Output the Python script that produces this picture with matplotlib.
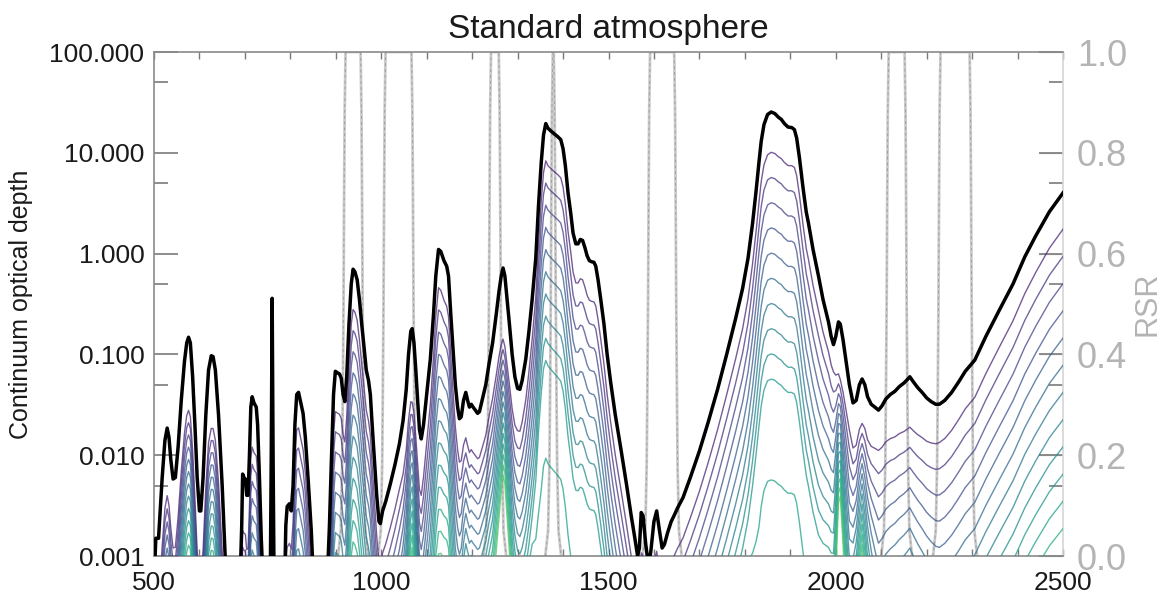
import numpy as np
import matplotlib
matplotlib.use('Agg')
import matplotlib.pyplot as plt
from matplotlib.ticker import FixedLocator, FuncFormatter, MultipleLocator

plt.rcParams['font.family'] = ['Liberation Sans', 'DejaVu Sans']

# ---------------- data ----------------
# total (black) continuum optical depth
black_wl = [500, 502, 504, 510, 513, 518, 524, 529, 533, 537, 542, 547, 553, 560, 567, 572, 576, 580,
            585, 590, 595, 600, 603, 608, 614, 620, 626, 630, 635, 642, 650, 655, 658,
            690, 693, 695, 698, 701, 704, 707, 710, 713, 716, 720, 725, 728, 732, 736, 739,
            756, 758, 760, 762, 764,
            788, 790, 793, 798, 802, 806, 810, 814, 818, 823, 828, 833, 840, 846, 850,
            882, 886, 890, 895, 899, 903, 908, 912, 916, 920, 924, 929, 934, 938, 942, 947, 952,
            957, 962, 967, 972, 976, 980, 985, 990, 995, 998, 1003, 1010, 1020, 1030, 1040, 1048,
            1055, 1060, 1065, 1068, 1072, 1076, 1080, 1084, 1088, 1093, 1100, 1108, 1115, 1120,
            1126, 1131, 1138, 1144, 1148, 1153, 1158, 1163, 1168, 1172, 1176, 1181, 1186, 1190,
            1194, 1198, 1202, 1207, 1212, 1216, 1222, 1230, 1237, 1245, 1253, 1259, 1264, 1268,
            1272, 1277, 1282, 1288, 1294, 1300, 1305, 1310, 1318, 1325, 1332, 1340, 1346, 1352,
            1357, 1362, 1367, 1373, 1380, 1388, 1395, 1400, 1405, 1411, 1417, 1422, 1428, 1433,
            1438, 1443, 1448, 1453, 1458, 1463, 1468, 1472, 1477, 1483, 1490, 1497, 1505, 1515,
            1528, 1540, 1550, 1558, 1564, 1568, 1572, 1576, 1582, 1588, 1593, 1600, 1606, 1612,
            1618, 1623, 1630, 1638, 1644, 1652, 1664, 1680, 1700, 1719, 1740, 1760, 1780, 1795,
            1807, 1817, 1825, 1831, 1836, 1842, 1850, 1858, 1866, 1874, 1880, 1887, 1895, 1903,
            1909, 1914, 1920, 1928, 1935, 1940, 1950, 1962, 1972, 1984, 1990, 1995, 2000, 2006,
            2010, 2016, 2022, 2030, 2038, 2045, 2052, 2058, 2064, 2070, 2078, 2086, 2094, 2102,
            2110, 2120, 2130, 2140, 2150, 2157, 2163, 2170, 2180, 2190, 2200, 2210, 2220, 2228,
            2240, 2255, 2270, 2285, 2306, 2330, 2359, 2390, 2416, 2440, 2470, 2500]
black_tau = [0.0009, 0.0009, 0.0015, 0.0015, 0.0025, 0.006, 0.014, 0.0186, 0.015, 0.009, 0.0058, 0.006,
             0.012, 0.035, 0.085, 0.13, 0.148, 0.13,
             0.06, 0.02, 0.006, 0.0028, 0.0028, 0.006, 0.025, 0.07, 0.097, 0.095, 0.07, 0.025,
             0.005, 0.0015, 0.0007,
             0.0007, 0.002, 0.0065, 0.006, 0.0058, 0.004, 0.004, 0.01, 0.03, 0.038, 0.033, 0.03,
             0.02, 0.006, 0.0015, 0.0007,
             0.0007, 0.01, 0.36, 0.01, 0.0007,
             0.0007, 0.002, 0.0031, 0.0033, 0.0028, 0.005, 0.02, 0.04, 0.042, 0.033, 0.026,
             0.015, 0.005, 0.0018, 0.0007,
             0.0007, 0.002, 0.008, 0.04, 0.068, 0.066, 0.064, 0.058, 0.04, 0.034, 0.06, 0.2,
             0.5, 0.7, 0.66, 0.55, 0.35,
             0.2, 0.12, 0.07, 0.055, 0.04, 0.02, 0.009, 0.004, 0.0022, 0.0021, 0.0028, 0.0035,
             0.0052, 0.008, 0.013, 0.022,
             0.045, 0.1, 0.17, 0.18, 0.13, 0.07, 0.035, 0.018, 0.0145, 0.02, 0.04, 0.09, 0.25, 0.6,
             1.1, 1.05, 0.85, 0.75, 0.6, 0.25, 0.11, 0.05, 0.03, 0.023, 0.024, 0.035, 0.042, 0.035,
             0.03, 0.032, 0.03, 0.028, 0.026, 0.027, 0.035, 0.05, 0.08, 0.13, 0.25, 0.42, 0.6, 0.72,
             0.6, 0.35, 0.2, 0.1, 0.06, 0.046, 0.045, 0.055, 0.09, 0.17, 0.35, 0.9, 3.0, 8.0,
             15.0, 19.5, 17.5, 16.5, 15.5, 14.5, 13.5, 11.0, 7.5, 4.0, 2.5, 1.6, 1.25, 1.25,
             1.38, 1.35, 1.15, 0.95, 0.85, 0.83, 0.82, 0.75, 0.55, 0.35, 0.2, 0.1, 0.052, 0.025,
             0.011, 0.005, 0.0025, 0.0015, 0.001, 0.0012, 0.0027, 0.0025, 0.0013, 0.0008, 0.0011,
             0.0022, 0.0028, 0.0018,
             0.0012, 0.0013, 0.0017, 0.0022, 0.0025, 0.003, 0.0038, 0.006, 0.011, 0.021, 0.045,
             0.1, 0.23, 0.45,
             0.9, 2.0, 4.3, 8.0, 13.0, 19.0, 24.0, 25.4, 24.5, 22.5, 21.5, 19.5, 18.0, 17.8,
             17.0, 14.0, 9.0, 4.5, 2.6, 2.0, 1.1, 0.6, 0.35, 0.21, 0.15, 0.125, 0.15, 0.21,
             0.2, 0.14, 0.09, 0.05, 0.033, 0.035, 0.05, 0.057, 0.05, 0.038, 0.032, 0.03, 0.028,
             0.031,
             0.036, 0.04, 0.043, 0.048, 0.052, 0.056, 0.06, 0.054, 0.047, 0.042, 0.037, 0.034,
             0.032, 0.032,
             0.035, 0.042, 0.053, 0.068, 0.088, 0.15, 0.27, 0.5, 0.93, 1.5, 2.6, 4.0]

# layered (coloured) curves: log10 offset of the top curve below the total,
# log10 step between successive curves, and extra step for the lowest curves
anc_wl = [500, 530, 555, 580, 605, 628, 665, 700, 716, 745, 760, 775, 815, 900, 940, 985,
          1040, 1068, 1095, 1126, 1165, 1186, 1215, 1245, 1270, 1300, 1362, 1440, 1520, 1700,
          1858, 1960, 1995, 2008, 2030, 2058, 2094, 2163, 2226, 2300, 2500]
anc_top = [0.7, 0.67, 0.7, 0.73, 0.72, 0.72, 0.6, 0.55, 0.5, 0.45, 0.3, 0.45, 0.35, 0.4, 0.4,
           0.4, 0.45, 0.73, 0.5, 0.38, 0.42, 0.45, 0.45, 0.55, 0.72, 0.42, 0.37, 0.39, 0.4, 0.4,
           0.4, 0.35, 0.27, 0.56, 0.45, 0.44, 0.4, 0.5, 0.38, 0.37, 0.36]
anc_step = [0.13, 0.13, 0.13, 0.12, 0.13, 0.12, 0.15, 0.17, 0.17, 0.17, 0.1, 0.17, 0.2, 0.2,
            0.21, 0.21, 0.2, 0.12, 0.2, 0.22, 0.2, 0.15, 0.15, 0.15, 0.1, 0.17, 0.22, 0.23,
            0.23, 0.23, 0.25, 0.25, 0.2, 0.08, 0.18, 0.1, 0.23, 0.2, 0.26, 0.26, 0.27]
gap_wl = [500, 1330, 1350, 1480, 1510, 1800, 1830, 1950, 1990, 2500]
gap_extra = [0, 0, 0.75, 0.75, 0, 0, 0.75, 0.75, 0, 0]
n_layers = 14

# instrument relative spectral responses (band 50% edges)
band_lo = [917, 1005, 1237, 1373, 1587, 2112, 2226]
band_hi = [959, 1071, 1263, 1384, 1649, 2156, 2299]
edge_dx = [-12, -6, -3, -1.5, 0, 1.2, 2.5, 4.5]
edge_rsr = [0.0, 0.05, 0.18, 0.33, 0.5, 0.7, 0.88, 1.0]

# ---------------- figure ----------------
W, H = 1167, 593
fig = plt.figure(figsize=(W / 100, H / 100), dpi=100)
L, R, T, B = 154, 1063, 52, 556
ax = fig.add_axes([L / W, 1 - B / H, (R - L) / W, (B - T) / H])
ax2 = ax.twinx()
ax.set_zorder(ax2.get_zorder() + 1)
ax.patch.set_visible(False)

# RSR curves
for lo, hi in zip(band_lo, band_hi):
    ex = np.asarray(edge_dx, float)
    er = np.asarray(edge_rsr, float)
    x = np.concatenate([lo + ex, hi - ex[::-1]])
    y = np.concatenate([er, er[::-1]])
    ax2.plot(x, y, color='#cacaca', lw=2.0, zorder=2)
    ax2.plot(x, y, color='#a0a0a0', lw=0.7, dashes=(3, 3), zorder=3)
ax2.set_ylim(0, 1)
ax2.set_yticks([0, 0.2, 0.4, 0.6, 0.8, 1.0])
ax2.yaxis.set_major_formatter(FuncFormatter(lambda v, p: f'{v:.1f}'))
ax2.tick_params(axis='y', direction='in', length=17, width=1.0, color='#d6d6d6',
                labelcolor='#b4b4b4', labelsize=26, pad=10)
ax2.set_ylabel('RSR', color='#b4b4b4', fontsize=22, labelpad=4)
for s in ax2.spines.values():
    s.set_visible(False)

# layered curves
bw = np.asarray(black_wl, float)
bt = np.asarray(black_tau, float)
top = np.interp(bw, anc_wl, anc_top)
step = np.interp(bw, anc_wl, anc_step)
gap = np.interp(bw, gap_wl, gap_extra)
cols = plt.cm.viridis(np.linspace(0.1, 0.72, n_layers))
for i in range(n_layers):
    off = top + step * i + gap * max(0, i - 9)
    ax.plot(bw, bt * 10 ** (-off), color=cols[i], lw=1.0, alpha=0.75, zorder=3)

ax.plot(bw, bt, color='black', lw=2.5, zorder=5)

ax.set_yscale('log')
ax.set_xlim(500, 2500)
ax.set_ylim(1e-3, 100)
ax.yaxis.set_major_locator(FixedLocator([1e-3, 1e-2, 1e-1, 1, 10, 100]))
ax.yaxis.set_minor_locator(FixedLocator([5e-3, 5e-2, 0.5, 5, 50]))
ax.yaxis.set_major_formatter(FuncFormatter(lambda v, p: f'{v:.3f}'))
ax.yaxis.set_minor_formatter(FuncFormatter(lambda v, p: ''))
ax.xaxis.set_major_locator(MultipleLocator(500))
ax.xaxis.set_minor_locator(MultipleLocator(100))

ax.tick_params(axis='y', which='major', direction='in', length=17, width=1.2,
               color='#7a7a7a', labelsize=19, labelcolor='#1a1a1a', pad=7, right=True)
ax.tick_params(axis='y', which='minor', direction='in', length=10, width=1.2,
               color='#7a7a7a', right=True)
ax.tick_params(axis='x', which='both', direction='in', length=5, width=1.0,
               color='#7a7a7a', labelsize=19, labelcolor='#1a1a1a', pad=11, top=True)

for k in ['left', 'bottom', 'top']:
    ax.spines[k].set_color('#8a8a8a')
    ax.spines[k].set_linewidth(1.2)
ax.spines['right'].set_color('#d6d6d6')
ax.spines['right'].set_linewidth(1.2)

ax.set_ylabel('Continuum optical depth', fontsize=18, labelpad=12, color='#1a1a1a')
ax.set_title('Standard atmosphere', fontsize=24, pad=10, color='#1a1a1a')

fig.savefig('out.png', dpi=100)
